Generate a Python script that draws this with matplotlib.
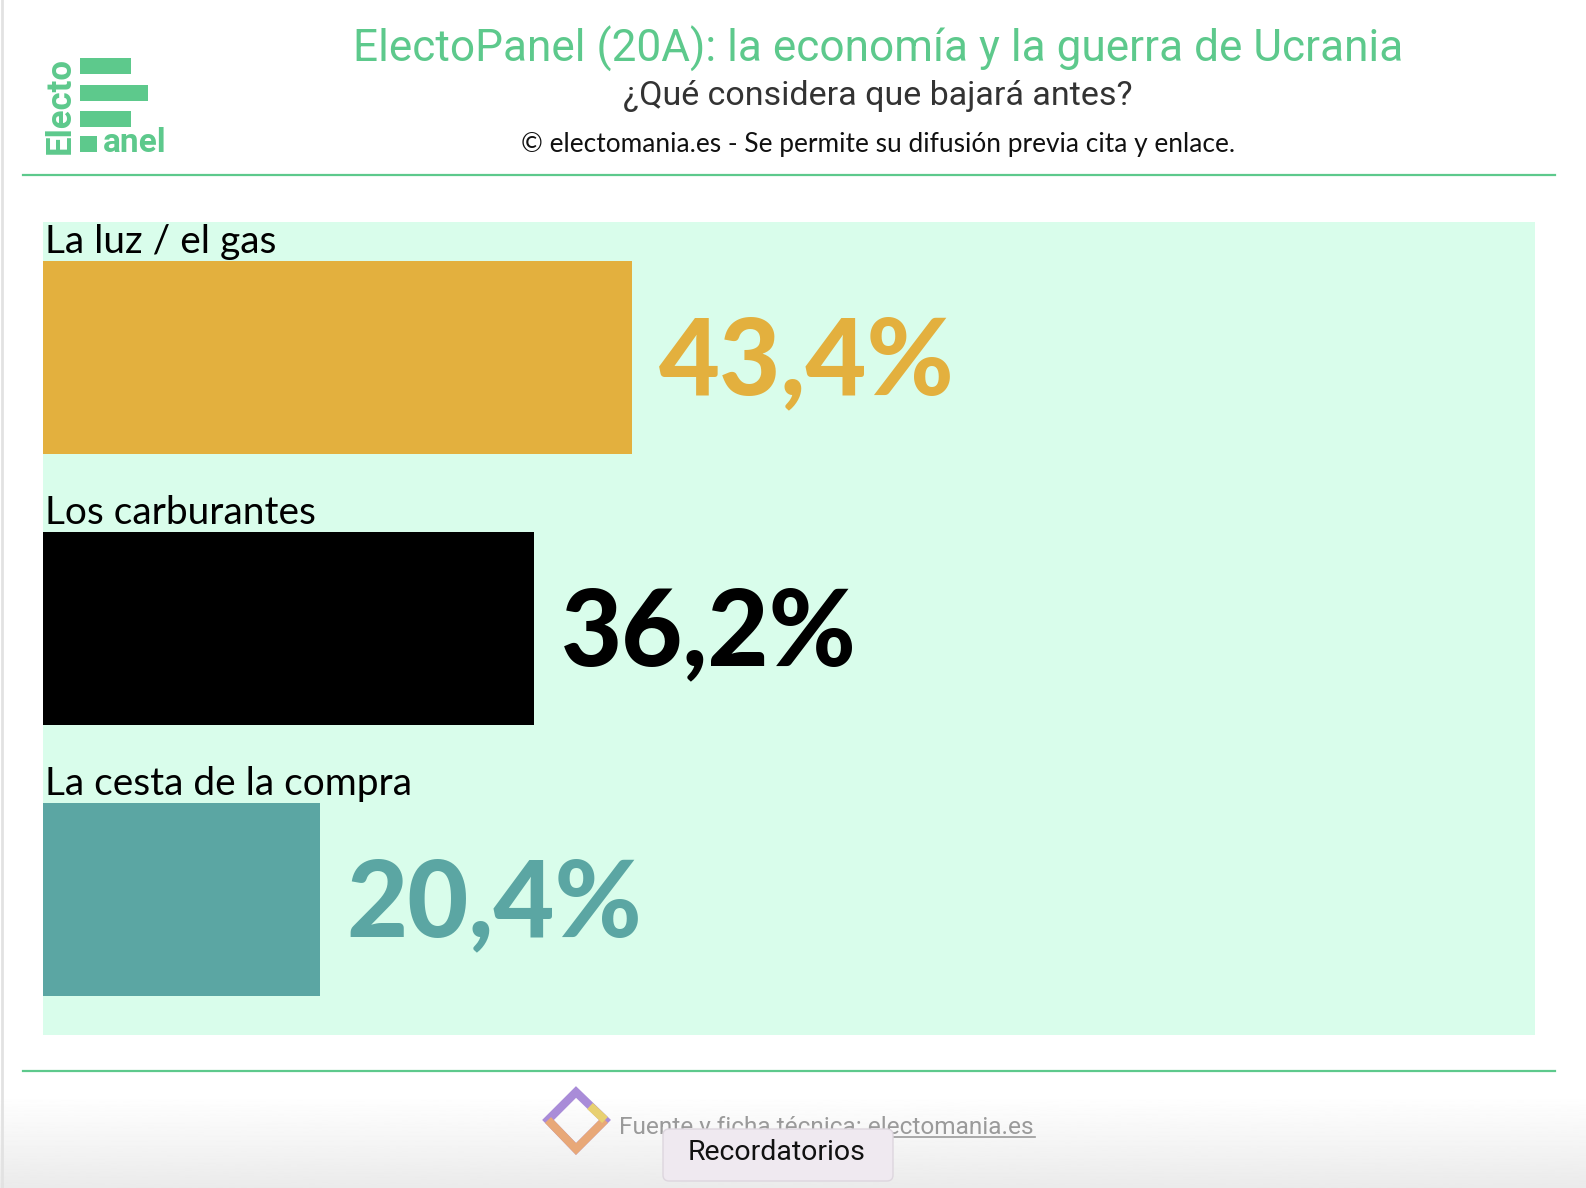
import numpy as np
import matplotlib.pyplot as plt
from matplotlib.patches import Rectangle, FancyBboxPatch, Polygon

# data
categories = ['La luz / el gas', 'Los carburantes', 'La cesta de la compra']
values = [43.4, 36.2, 20.4]
labels = ['43,4%', '36,2%', '20,4%']
colors = ['#E3B03E', '#000000', '#5BA6A3']

W, H = 1586, 1188
green = '#5DC98C'

fig = plt.figure(figsize=(W / 100, H / 100), dpi=100)
fig.patch.set_facecolor('white')

# overlay in pixel coordinates for header / footer
bg = fig.add_axes([0, 0, 1, 1])
bg.set_xlim(0, W)
bg.set_ylim(H, 0)
bg.axis('off')

# bottom grey fade
grad = np.linspace(0, 1, 100).reshape(-1, 1)
bg.imshow(1 - 0.08 * grad, cmap='gray', vmin=0, vmax=1, aspect='auto',
          extent=(0, W, 1188, 1095), zorder=0)
bg.plot([2, 2], [0, H], color='#E2E2E2', lw=2)

# header lines
bg.plot([23, 1555], [175, 175], color=green, lw=1.6)
bg.plot([23, 1555], [1071, 1071], color=green, lw=1.6)

# logo
for x0, y0, w, h in [(80, 58, 51, 16), (80, 85, 68, 16), (80, 111, 51, 16), (80, 136, 17, 16)]:
    bg.add_patch(Rectangle((x0, y0), w, h, color=green, lw=0))
bg.text(60, 154, 'Electo', rotation=90, color=green, fontsize=25, fontweight='bold',
        family='Roboto', ha='center', va='bottom')
bg.text(103, 152, 'anel', color=green, fontsize=24, fontweight='bold',
        family='Roboto', ha='left', va='baseline')

# titles
bg.text(878, 62, 'ElectoPanel (20A): la economía y la guerra de Ucrania', color=green,
        fontsize=31.8, family='Roboto', ha='center', va='baseline')
bg.text(878, 105, '¿Qué considera que bajará antes?', color='#333333',
        fontsize=24.5, family='Roboto', ha='center', va='baseline')
bg.text(878, 152, '© electomania.es - Se permite su difusión previa cita y enlace.',
        color='#111111', fontsize=18.9, family='Lato', ha='center', va='baseline')

# footer
bg.add_patch(Polygon([(576, 1092), (605, 1120), (576, 1149), (548, 1120)],
                     closed=True, facecolor='none', edgecolor='#A98CD8', lw=6))
bg.add_patch(Polygon([(548, 1120), (576, 1149), (605, 1120)],
                     closed=False, facecolor='none', edgecolor='#E8A878', lw=6))
bg.add_patch(Polygon([(590, 1106), (605, 1120)],
                     closed=False, facecolor='none', edgecolor='#E8D070', lw=6))
bg.text(619, 1134, 'Fuente y ficha técnica: electomania.es', color='#9A9A9A',
        fontsize=17.6, family='Roboto', ha='left', va='baseline')
bg.plot([870, 1035], [1137, 1137], color='#9A9A9A', lw=1.2)
bg.add_patch(FancyBboxPatch((663, 1129), 230, 52, boxstyle='round,pad=0,rounding_size=6',
                            facecolor='#EFE9F0', edgecolor='#DDD6DE', lw=1, zorder=5))
bg.text(777, 1153, 'Recordatorios', color='#111111', fontsize=20.5, family='Roboto',
        ha='center', va='center', zorder=6)

# bar chart
ax = fig.add_axes([43 / W, 1 - 1035 / H, (1535 - 43) / W, (1035 - 222) / H])
ax.set_facecolor('#D9FDEB')
y = np.arange(len(categories))
ax.barh(y, values, height=0.712, color=colors)
ax.set_xlim(0, 110)
ax.set_ylim(2.5, -0.5)
for i, (cat, v, lab, c) in enumerate(zip(categories, values, labels, colors)):
    ax.text(0.15, i - 0.385, cat, fontsize=28, family='Lato', color='black',
            ha='left', va='baseline')
    ax.text(v + 2.0, i + 0.137, lab, fontsize=76, family='Lato', fontweight='black',
            color=c, ha='left', va='baseline')
for s in ax.spines.values():
    s.set_visible(False)
ax.set_xticks([])
ax.set_yticks([])

fig.savefig('out.png', dpi=100)
